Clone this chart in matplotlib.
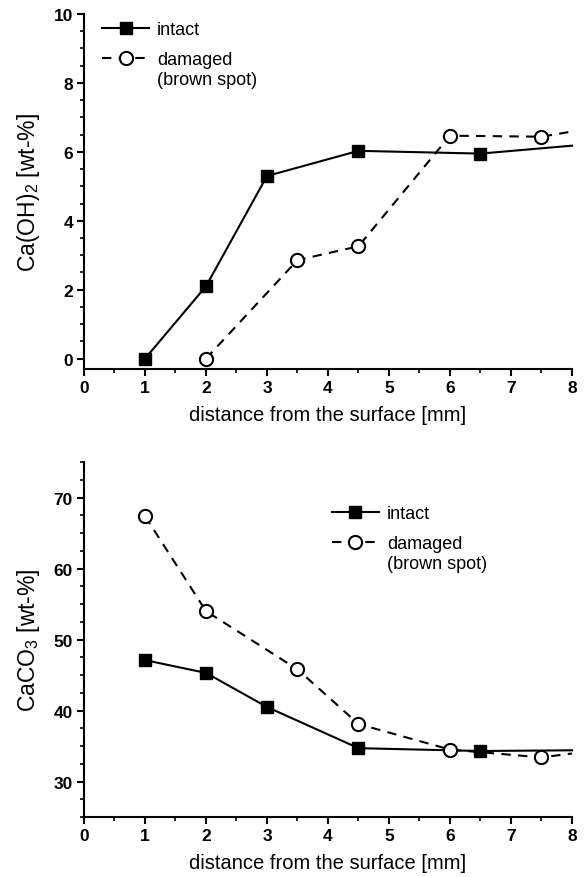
import matplotlib
matplotlib.use("Agg")
import matplotlib.pyplot as plt
from matplotlib.ticker import MultipleLocator

# Data (distance in mm, content in wt-%)
# the last point of each series sits on the x=8 edge and carries no marker
oh_intact_x = [1, 2, 3, 4.5, 6.5, 8]
oh_intact_y = [0, 2.1, 5.3, 6.03, 5.95, 6.18]
oh_damaged_x = [2, 3.5, 4.5, 6, 7.5, 8]
oh_damaged_y = [0, 2.86, 3.26, 6.47, 6.44, 6.59]

co3_intact_x = [1, 2, 3, 4.5, 6.5, 8]
co3_intact_y = [47.1, 45.3, 40.5, 34.7, 34.3, 34.4]
co3_damaged_x = [1, 2, 3.5, 4.5, 6, 7.5, 8]
co3_damaged_y = [67.4, 54.0, 45.8, 38.1, 34.5, 33.4, 33.95]

xlabel = "distance from the surface [mm]"
labels = ["intact", "damaged"]

plt.rcParams["font.family"] = ["Liberation Sans", "DejaVu Sans"]
plt.rcParams["mathtext.fontset"] = "custom"
plt.rcParams["mathtext.rm"] = "Liberation Sans"

fig = plt.figure(figsize=(5.87, 8.78), dpi=100)
ax1 = fig.add_axes([0.1431, 0.5786, 0.8313, 0.4043])
ax2 = fig.add_axes([0.1431, 0.0683, 0.8313, 0.4043])


def draw_panel(ax, xi, yi, xd, yd, ylim, major, minor, ylabel, leg_anchor):
    li, = ax.plot(xi, yi, color="black", lw=1.5, marker="s", ms=8.5,
                  mfc="black", mec="black", markevery=list(range(len(xi) - 1)),
                  label=labels[0], zorder=3, clip_on=False)
    ld, = ax.plot(xd, yd, color="black", lw=1.5, ls=(0, (4.5, 3.5)), marker="o",
                  ms=9.5, mfc="white", mec="black", mew=1.5,
                  markevery=list(range(len(xd) - 1)), label=labels[1],
                  zorder=4, clip_on=False)

    ax.set_xlim(0, 8)
    ax.set_ylim(*ylim)
    ax.xaxis.set_major_locator(MultipleLocator(1))
    ax.xaxis.set_minor_locator(MultipleLocator(0.5))
    ax.yaxis.set_major_locator(MultipleLocator(major))
    ax.yaxis.set_minor_locator(MultipleLocator(minor))

    for side in ["top", "right"]:
        ax.spines[side].set_visible(False)
    for side in ["left", "bottom"]:
        ax.spines[side].set_linewidth(1.5)

    ax.tick_params(which="major", direction="out", length=5, width=1.5,
                   labelsize=12.5, pad=3)
    ax.tick_params(which="minor", direction="out", length=3, width=1.2)
    for t in ax.get_xticklabels() + ax.get_yticklabels():
        t.set_fontweight("bold")

    ax.set_xlabel(xlabel, fontsize=14.5, labelpad=7)
    ax.set_ylabel(ylabel, fontsize=16.5, labelpad=8)

    leg = ax.legend(handles=[li, ld], loc="upper left", bbox_to_anchor=leg_anchor,
                    frameon=False, fontsize=13, handlelength=2.6,
                    handletextpad=0.45, labelspacing=0.72, borderpad=0,
                    borderaxespad=0)
    # second line of the "damaged" entry, placed under its label
    ax.annotate("(brown spot)", xy=(0, 0), xycoords=leg.get_texts()[1],
                xytext=(0, -2), textcoords="offset points",
                ha="left", va="top", fontsize=13, zorder=6)


draw_panel(ax1, oh_intact_x, oh_intact_y, oh_damaged_x, oh_damaged_y,
           (-0.3, 10), 2, 0.5, r"Ca(OH)$_\mathregular{2}$ [wt-%]", (0.037, 0.979))
draw_panel(ax2, co3_intact_x, co3_intact_y, co3_damaged_x, co3_damaged_y,
           (25, 75), 10, 2.5, r"CaCO$_\mathregular{3}$ [wt-%]", (0.508, 0.879))

fig.canvas.draw()
fig.savefig("out.png", dpi=100)
